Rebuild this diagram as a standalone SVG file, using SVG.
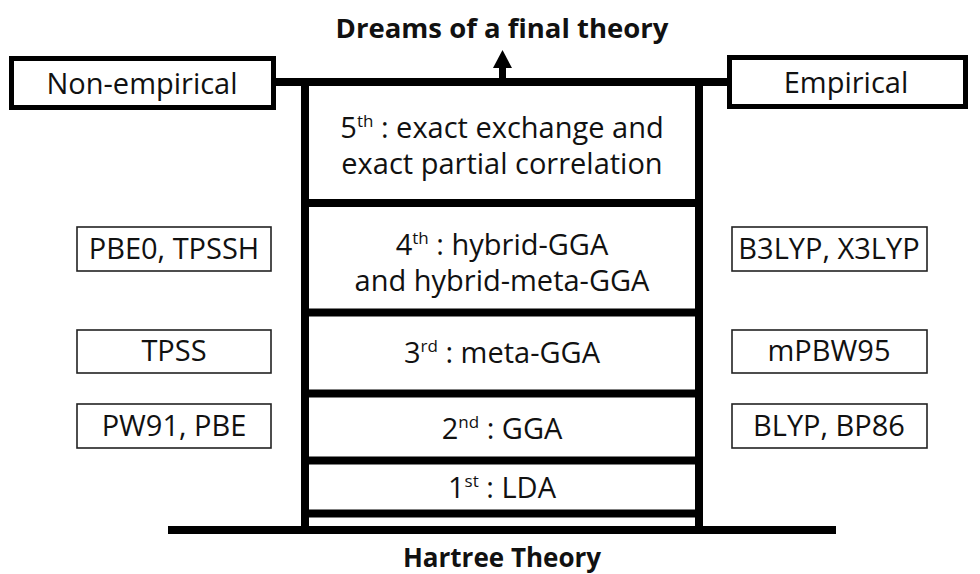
<svg xmlns="http://www.w3.org/2000/svg" width="980" height="574" viewBox="0 0 980 574">
<style>
text{font-family:"Open Sans","Liberation Sans",Arial,sans-serif;fill:#111;text-anchor:middle;}
.t{font-size:29px;}
.b{font-size:27.5px;font-weight:bold;}
.s{font-size:17px;}
.rail{stroke:#000;stroke-width:8;fill:none;}
.thin{fill:#fff;stroke:#222;stroke-width:1.6;}
.thick{fill:#fff;stroke:#000;stroke-width:5;}
</style>
<rect width="980" height="574" fill="#fff"/>
<g id="connectors">
<line class="rail" x1="276" y1="82" x2="727" y2="82"/>
<line class="rail" x1="305" y1="78" x2="305" y2="534"/>
<line class="rail" x1="699" y1="78" x2="699" y2="534"/>
<line class="rail" x1="305" y1="203" x2="699" y2="203"/>
<line class="rail" x1="305" y1="312.5" x2="699" y2="312.5"/>
<line class="rail" x1="305" y1="393.5" x2="699" y2="393.5"/>
<line class="rail" x1="305" y1="460.5" x2="699" y2="460.5"/>
<line class="rail" x1="305" y1="513.5" x2="699" y2="513.5"/>
<line class="rail" x1="168" y1="530" x2="836" y2="530"/>
<line x1="502.5" y1="80" x2="502.5" y2="66" stroke="#000" stroke-width="7"/>
<polygon points="493,68 512,68 502.5,50" fill="#000"/>
</g>
<g id="title"><text class="b" x="502" y="38">Dreams of a final theory</text></g>
<g id="hartree"><text class="b" x="502" y="567" style="font-size:26px">Hartree Theory</text></g>
<g id="non-empirical"><rect class="thick" x="11.5" y="58.5" width="262" height="49"/><text class="t" x="142" y="93.5">Non-empirical</text></g>
<g id="empirical"><rect class="thick" x="729.5" y="57.5" width="236" height="49"/><text class="t" x="846" y="92.5">Empirical</text></g>
<g id="rung5"><text class="t" x="502" y="138">5<tspan class="s" dy="-11">th</tspan><tspan dy="11"> : exact exchange and</tspan></text><text class="t" x="502" y="173.5">exact partial correlation</text></g>
<g id="rung4"><text class="t" x="502" y="255">4<tspan class="s" dy="-11">th</tspan><tspan dy="11"> : hybrid-GGA</tspan></text><text class="t" x="502" y="291">and hybrid-meta-GGA</text></g>
<g id="rung3"><text class="t" x="502" y="362.5">3<tspan class="s" dy="-11">rd</tspan><tspan dy="11"> : meta-GGA</tspan></text></g>
<g id="rung2"><text class="t" x="502" y="438.5">2<tspan class="s" dy="-11">nd</tspan><tspan dy="11"> : GGA</tspan></text></g>
<g id="rung1"><text class="t" x="502" y="498">1<tspan class="s" dy="-11">st</tspan><tspan dy="11"> : LDA</tspan></text></g>
<g id="pbe0"><rect class="thin" x="77" y="227" width="194" height="44"/><text class="t" x="174" y="259">PBE0, TPSSH</text></g>
<g id="tpss"><rect class="thin" x="77" y="330" width="194" height="43"/><text class="t" x="174" y="361">TPSS</text></g>
<g id="pw91"><rect class="thin" x="77" y="404" width="194" height="44"/><text class="t" x="174" y="436">PW91, PBE</text></g>
<g id="b3lyp"><rect class="thin" x="732" y="227" width="195" height="44"/><text class="t" x="829" y="259">B3LYP, X3LYP</text></g>
<g id="mpbw95"><rect class="thin" x="732" y="330" width="195" height="43"/><text class="t" x="829" y="361">mPBW95</text></g>
<g id="blyp"><rect class="thin" x="732" y="404" width="195" height="44"/><text class="t" x="829" y="436">BLYP, BP86</text></g>
</svg>
